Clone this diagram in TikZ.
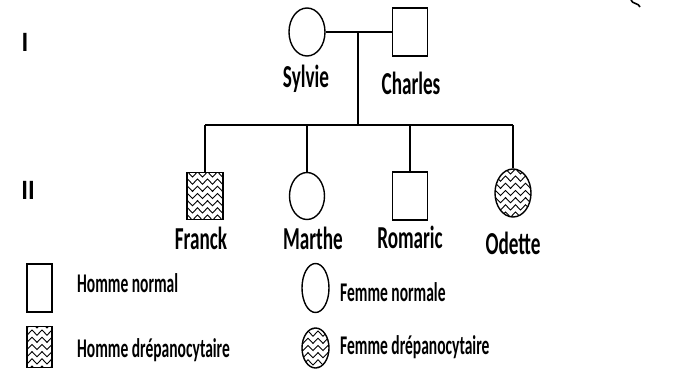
\documentclass[tikz,border=0pt]{standalone}
\usepackage{fontspec}
\setmainfont{Carlito}
\usetikzlibrary{shapes.geometric,decorations.pathmorphing}
\newcommand\pedlbl[1]{\fontsize{32}{34}\selectfont\bfseries\scalebox{0.6}[1]{#1}}
\newcommand\leglbl[1]{\fontsize{27}{30}\selectfont\bfseries\scalebox{0.575}[1]{#1}}
\newcommand\genlbl[1]{\fontsize{28}{30}\selectfont\bfseries\scalebox{0.9}[1]{#1}}
\tikzset{
  line/.style={line width=1.3pt},
  male/.style={draw, line width=1.4pt, rectangle, inner sep=0pt, minimum width=35pt, minimum height=48pt},
  female/.style={draw, line width=1.4pt, ellipse, inner sep=0pt, minimum width=36pt, minimum height=48pt},
  sick/.style={path picture={
      \foreach \k in {-5,...,5}
        \draw[line width=0.9pt, decorate, decoration={zigzag, segment length=10pt, amplitude=2.6pt}]
          ([xshift=-30pt, yshift=\k*7.2pt]path picture bounding box.center) -- ++(60pt,0);
  }},
  txt/.style={inner sep=0pt}
}
\begin{document}
\begin{tikzpicture}[x=1pt, y=-1pt]
\useasboundingbox (0,0) rectangle (682,380);
% generation labels
\node[txt] (gI) at (25,42) {\genlbl{I}};
\node[txt] (gII) at (28,190) {\genlbl{II}};
% parents
\node[female] (sylvie) at (307,32) {};
\node[male] (charles) at (410,32) {};
\node[txt] (lsylvie) at (306,79) {\pedlbl{Sylvie}};
\node[txt] (lcharles) at (411,83) {\pedlbl{Charles}};
\coordinate (m) at (358,32);
\coordinate (s) at (358,125);
\draw[line] (sylvie.east) -- (charles.west);
\draw[line] (m) -- (s);
% children
\node[male, sick, minimum width=36pt, minimum height=47pt] (franck) at (205,196) {};
\node[female, minimum width=35pt, minimum height=47pt] (marthe) at (307,196) {};
\node[male] (romaric) at (410,196) {};
\node[female, sick] (odette) at (513,193) {};
\coordinate (sf) at (205,125);
\coordinate (sm) at (307,125);
\coordinate (sr) at (410,125);
\coordinate (so) at (513,125);
\draw[line] (sf) -- (so);
\draw[line] (sf) -- (franck.north);
\draw[line] (sm) -- (marthe.north);
\draw[line] (sr) -- (romaric.north);
\draw[line] (so) -- (odette.north);
\node[txt] (lfranck) at (201,238) {\pedlbl{Franck}};
\node[txt] (lmarthe) at (313,238) {\pedlbl{Marthe}};
\node[txt] (lromaric) at (410,237) {\pedlbl{Romaric}};
\node[txt] (lodette) at (513,243) {\pedlbl{Odette}};
% legend
\node[male, minimum width=25pt, minimum height=48pt] (hn) at (39.5,288) {};
\node[male, sick, minimum width=25pt, minimum height=41pt] (hd) at (39.5,347) {};
\node[female, minimum width=27pt, minimum height=49pt] (fn) at (315.5,288) {};
\node[female, sick, minimum width=27pt, minimum height=40pt] (fd) at (315.5,348) {};
\node[txt, anchor=west] (lhn) at (77,283) {\leglbl{Homme normal}};
\node[txt, anchor=west] (lhd) at (77,350) {\leglbl{Homme drépanocytaire}};
\node[txt, anchor=west] (lfn) at (340,292) {\leglbl{Femme normale}};
\node[txt, anchor=west] (lfd) at (340,347) {\leglbl{Femme drépanocytaire}};
% corner mark
\draw[line width=1.6pt] (631,0) .. controls (632,4) and (639,3) .. (640,7);
\end{tikzpicture}
\end{document}
